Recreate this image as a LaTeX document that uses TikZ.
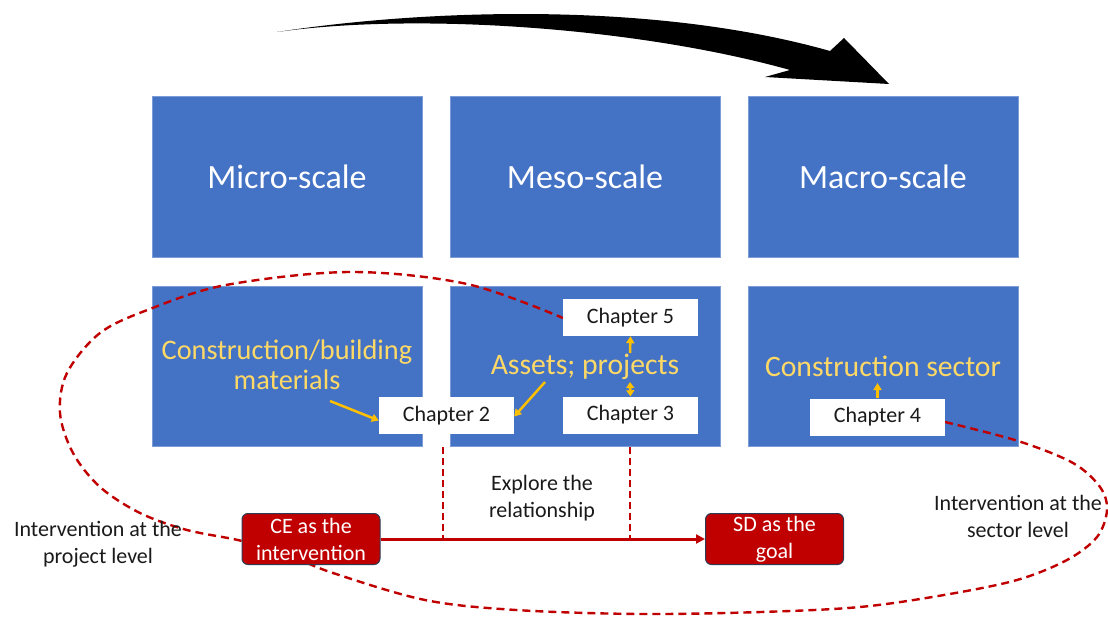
\documentclass[tikz,border=0pt]{standalone}
\usepackage{fontspec}
\setmainfont{Carlito}
\usetikzlibrary{arrows.meta}
\definecolor{scaleblue}{HTML}{4472C4}
\definecolor{scaleedge}{HTML}{7C9CD6}
\definecolor{gold}{HTML}{FFD966}
\definecolor{amber}{HTML}{FFC000}
\definecolor{deepred}{HTML}{C00000}
\definecolor{boxedge}{HTML}{2F3B55}
\definecolor{ink}{HTML}{1A1A1A}
\tikzset{
  scalebox/.style={fill=scaleblue, draw=scaleedge, line width=0.8pt,
    minimum width=270pt, minimum height=161pt, inner sep=0pt,
    text=white, font=\fontsize{34}{40}\selectfont},
  levelbox/.style={fill=scaleblue, draw=scaleedge, line width=0.8pt,
    minimum width=270pt, minimum height=160pt, inner sep=0pt},
  goldtext/.style={text=gold, align=center, inner sep=0pt,
    font=\fontsize{28.3}{30}\selectfont},
  biggold/.style={goldtext, font=\fontsize{29.7}{32}\selectfont},
  chapterbox/.style={fill=white, minimum width=135pt, minimum height=37pt,
    inner sep=0pt, text=ink, font=\fontsize{22}{26}\selectfont},
  redbox/.style={fill=deepred, draw=boxedge, line width=1pt, rounded corners=6pt,
    minimum width=138pt, minimum height=51pt, inner sep=0pt, align=center,
    text=white, font=\fontsize{22}{27}\selectfont},
  plainlabel/.style={align=center, inner sep=0pt, text=ink,
    font=\fontsize{22}{27}\selectfont},
  goldarrow/.style={draw=amber, line width=2.5pt,
    -{Triangle[length=7pt,width=8pt]}},
  goldboth/.style={draw=amber, line width=2.5pt,
    {Triangle[length=6pt,width=8pt]}-{Triangle[length=6pt,width=8pt]}},
  redarrow/.style={draw=deepred, line width=3pt,
    -{Triangle[length=9pt,width=9pt]}},
  reddash/.style={draw=deepred, line width=2pt, dash pattern=on 7pt off 4pt},
  loopdash/.style={draw=deepred, line width=2.4pt, dash pattern=on 8pt off 5pt},
}
\begin{document}
\begin{tikzpicture}[x=1pt,y=-1pt]
\useasboundingbox (0,0) rectangle (1108,617);

% sweeping arrow from micro to macro
\fill[black] (277,32) .. controls (420,10) and (650,0) .. (830,51)
  -- (844,38) -- (889,84) -- (765,77) -- (790,70)
  .. controls (640,28) and (420,12) .. (277,32) -- cycle;

% the three scales
\node[scalebox] (micro) at (287,176.5) {Micro-scale};
\node[scalebox] (meso)  at (585,176.5) {Meso-scale};
\node[scalebox] (macro) at (883,176.5) {Macro-scale};

\node[levelbox] (microlow) at (287,366) {};
\node[levelbox] (mesolow)  at (585,366) {};
\node[levelbox] (macrolow) at (883,366) {};

\node[goldtext] (materials) at (287,365) {Construction/building\\materials};
\node[biggold] (assets) at (585,367) {Assets; projects};
\node[biggold] (sector) at (883,366) {Construction sector};

% dashed loop linking project level and sector level
\draw[loopdash] plot[smooth, tension=0.55] coordinates {
  (945,422) (1018,441) (1073,463) (1100,487) (1107,510) (1097,537)
  (1067,560) (1017,580) (944,595) (860,607) (761,612) (639,614)
  (516,610) (425,600) (333,573) (290,556) (242,541) (187,530)
  (140,513) (100,487) (73,453) (60,413) (67,373) (100,333)
  (150,309) (226,285) (350,272) (467,284) (563,318)};

% chapters
\node[chapterbox] (ch2) at (446.5,415.5) {Chapter 2};
\node[chapterbox] (ch5) at (630.5,317.5) {Chapter 5};
\node[chapterbox] (ch3) at (630.5,415) {Chapter 3};
\node[chapterbox] (ch4) at (877.5,417) {Chapter 4};

\coordinate (matfoot) at (330,401);
\coordinate (assetfoot) at (545,382);
\coordinate (assettop) at (630,353);
\coordinate (assetbase) at (630,382);
\coordinate (sectorfoot) at (877.5,383);

\draw[goldarrow] (matfoot) -- ([yshift=-5pt]ch2.west);
\draw[goldarrow] (assetfoot) -- ([yshift=-1pt]ch2.east);
\draw[goldarrow] (assettop) -- (ch5.south);
\draw[goldboth] (assetbase) -- (ch3.north);
\draw[goldarrow] (ch4.north) -- (sectorfoot);

% intervention and goal
\node[redbox] (ce) at (311,539) {CE as the\\intervention};
\node[redbox] (sd) at (774.5,539) {SD as the\\goal};
\draw[redarrow] (ce) -- (sd);

\coordinate (drop2) at (443,447);
\coordinate (drop3) at (630,447);
\draw[reddash] (drop2) -- (drop2 |- ce.east);
\draw[reddash] (drop3) -- (drop3 |- ce.east);

\node[plainlabel] (explore) at (542,498.5) {Explore the\\relationship};
\node[plainlabel] (project) at (98,544.5) {Intervention at the\\project level};
\node[plainlabel] (sectlevel) at (1018,516.5) {Intervention at the\\sector level};
\end{tikzpicture}
\end{document}
